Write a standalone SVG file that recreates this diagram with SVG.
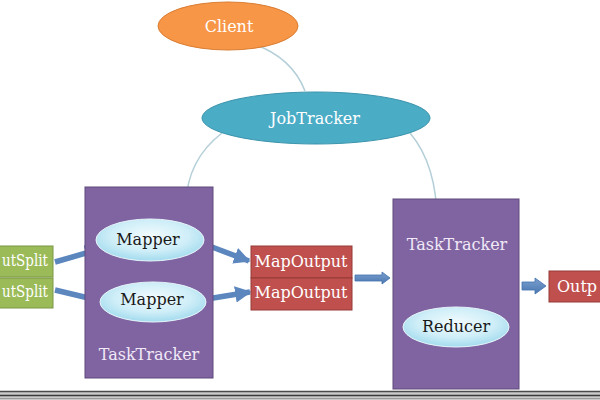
<svg xmlns="http://www.w3.org/2000/svg" width="600" height="400" viewBox="0 0 600 400">
<defs>
<radialGradient id="cyan" cx="0.5" cy="0.4" r="0.6">
<stop offset="0" stop-color="#f2fbfe"/>
<stop offset="0.6" stop-color="#cfeef8"/>
<stop offset="1" stop-color="#a2dbee"/>
</radialGradient>
<linearGradient id="blue" x1="0" y1="0" x2="0" y2="1">
<stop offset="0" stop-color="#7ba0d0"/>
<stop offset="1" stop-color="#4a77b0"/>
</linearGradient>
<marker id="ah" viewBox="0 0 10 10" refX="9" refY="5" markerWidth="3" markerHeight="3" orient="auto">
<path d="M0,0 L10,5 L0,10 Z" fill="#5b86be"/>
</marker>
</defs>
<style>
text{font-family:"DejaVu Serif","Liberation Serif",serif;font-size:16px}
.w{fill:#ffffff}
.lav{fill:#f1e9f7}
.k{fill:#1a1a1a}
.mid{text-anchor:middle}
.tt{fill:#8064a2;stroke:#5f497a;stroke-width:1}
.map{fill:url(#cyan);stroke:#e8f6fb;stroke-width:1}
.green{fill:#9bbb59;stroke:#7a9644;stroke-width:1}
.red{fill:#c0504d;stroke:#943a37;stroke-width:1}
.conn{fill:none;stroke:#b4cfd8;stroke-width:1.5}
.thick{fill:none;stroke:#5b86be;stroke-width:5.5;marker-end:url(#ah)}
.blk{fill:url(#blue);stroke:#4172ad;stroke-width:0.8}
</style>
<rect width="600" height="400" fill="#ffffff"/>

<g id="connectors">
<path class="conn" d="M240,40 Q290,52 305,91"/>
<path class="conn" d="M222,133 Q187,160 186,204"/>
<path class="conn" d="M410,133 Q437,165 437,222"/>
<line class="thick" x1="55" y1="262" x2="100" y2="249"/>
<line class="thick" x1="55" y1="290" x2="101" y2="301"/>
<line class="thick" x1="204" y1="244" x2="249" y2="261"/>
<line class="thick" x1="207" y1="299" x2="250" y2="292"/>
<path class="blk" d="M355,275 L382,275 L382,272 L390,278 L382,284 L382,281 L355,281 Z"/>
<path class="blk" d="M522,282 L535,282 L535,278 L546,286 L535,294 L535,290 L522,290 Z"/>
</g>

<g id="client">
<ellipse cx="228" cy="26" rx="70" ry="24" fill="#f79646" stroke="#d97c32" stroke-width="1"/>
<text class="w mid" x="229" y="32">Client</text>
</g>

<g id="jobtracker">
<ellipse cx="316" cy="118" rx="114" ry="26" fill="#4bacc6" stroke="#3a93ab" stroke-width="1"/>
<text class="w mid" x="315" y="124">JobTracker</text>
</g>

<g id="tasktracker-left">
<rect class="tt" x="85" y="187" width="128" height="191"/>
<text class="lav mid" x="149" y="360">TaskTracker</text>
</g>

<g id="mapper1">
<ellipse class="map" cx="150" cy="240" rx="54" ry="21"/>
<text class="k mid" x="148" y="245">Mapper</text>
</g>

<g id="mapper2">
<ellipse class="map" cx="153" cy="302" rx="53" ry="20"/>
<text class="k mid" x="152" y="305">Mapper</text>
</g>

<g id="inputsplit1">
<rect class="green" x="-40" y="246" width="93" height="31"/>
<text class="w" x="2" y="266" textLength="46" lengthAdjust="spacingAndGlyphs">utSplit</text>
</g>

<g id="inputsplit2">
<rect class="green" x="-40" y="278" width="93" height="30"/>
<text class="w" x="2" y="297" textLength="46" lengthAdjust="spacingAndGlyphs">utSplit</text>
</g>

<g id="mapoutput1">
<rect class="red" x="251" y="246" width="101" height="32"/>
<text class="w mid" x="301" y="267">MapOutput</text>
</g>

<g id="mapoutput2">
<rect class="red" x="251" y="278" width="101" height="32"/>
<text class="w mid" x="301" y="298">MapOutput</text>
</g>

<g id="tasktracker-right">
<rect class="tt" x="393" y="199" width="126" height="190"/>
<text class="lav mid" x="457" y="250">TaskTracker</text>
</g>

<g id="reducer">
<ellipse class="map" cx="456" cy="327" rx="53" ry="20"/>
<text class="k mid" x="456" y="332">Reducer</text>
</g>

<g id="output">
<rect class="red" x="549" y="271" width="70" height="31"/>
<text class="w" x="557" y="292">Outp</text>
</g>

<rect x="0" y="391" width="600" height="9" fill="#c9c9c9"/>
<line x1="0" y1="391.5" x2="600" y2="391.5" stroke="#4a4a4a" stroke-width="1.5"/>
<line x1="0" y1="395.5" x2="600" y2="395.5" stroke="#3a3a3a" stroke-width="1.5"/>
<line x1="0" y1="398.5" x2="600" y2="398.5" stroke="#9a9a9a" stroke-width="1"/>
</svg>
